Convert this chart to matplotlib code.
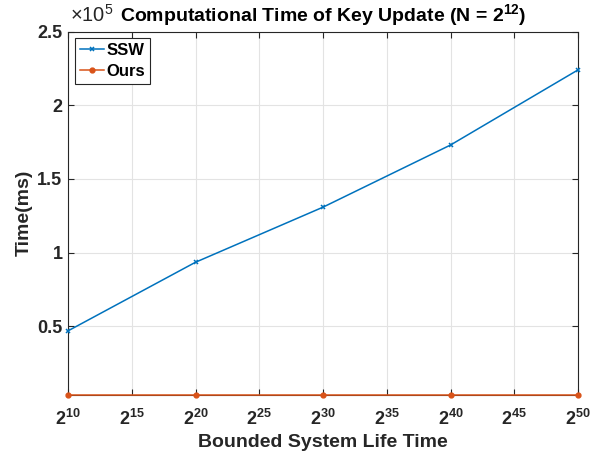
import math
import matplotlib
matplotlib.use("Agg")
import matplotlib.pyplot as plt
from matplotlib.ticker import FuncFormatter, FixedLocator, NullLocator

plt.rcParams['font.family'] = ['Liberation Sans', 'DejaVu Sans']
plt.rcParams['mathtext.fontset'] = 'custom'
plt.rcParams['mathtext.rm'] = 'Liberation Sans'
plt.rcParams['mathtext.it'] = 'Liberation Sans'
plt.rcParams['mathtext.bf'] = 'Liberation Sans:bold'
plt.rcParams['mathtext.default'] = 'rm'

# Data (x exponents of 2, time in ms)
exponents = [10, 20, 30, 40, 50]
ssw_time = [46800, 93400, 130800, 173000, 224000]
ours_time = [3400, 3400, 3400, 3400, 3400]
series_names = ["SSW", "Ours"]
x_tick_exponents = [10, 15, 20, 25, 30, 35, 40, 45, 50]
y_ticks = [0.5e5, 1.0e5, 1.5e5, 2.0e5, 2.5e5]

blue = '#0072BD'
orange = '#D95319'
dark = '#262626'

fig = plt.figure(figsize=(6.04, 4.58), dpi=100)
ax = fig.add_axes([0.1126, 0.138, 0.8444, 0.793])

xs = [2.0 ** e for e in exponents]
ax.plot(xs, ssw_time, color=blue, lw=1.1, marker='x', ms=3, mew=1.1, label=series_names[0],
        clip_on=False, zorder=3)
ax.plot(xs, ours_time, color=orange, lw=1.1, marker='.', ms=7, label=series_names[1],
        clip_on=False, zorder=3)

ax.set_xscale('log', base=2)
ax.set_xlim(2.0 ** 10, 2.0 ** 50)
ax.xaxis.set_major_locator(FixedLocator([2.0 ** e for e in x_tick_exponents]))
ax.xaxis.set_minor_locator(NullLocator())
ax.xaxis.set_major_formatter(FuncFormatter(lambda v, p: r'$\mathbf{2^{%d}}$' % round(math.log2(v))))

ax.set_ylim(ours_time[0], 2.5e5)
ax.yaxis.set_major_locator(FixedLocator(y_ticks))
ax.yaxis.set_major_formatter(FuncFormatter(lambda v, p: '%g' % (v / 1e5)))

ax.tick_params(direction='in', length=4, width=0.8, colors=dark, top=True, right=True,
               labelsize=13)
ax.tick_params(axis='y', pad=4)
ax.tick_params(axis='x', pad=10)
for lab in ax.get_yticklabels():
    lab.set_fontweight('bold')
ax.grid(True, color='#E3E3E3', lw=0.8)
for s in ax.spines.values():
    s.set_color(dark)
    s.set_linewidth(0.8)

ax.set_xlabel('Bounded System Life Time', fontsize=14, fontweight='bold', color=dark, labelpad=4)
ax.set_ylabel('Time(ms)', fontsize=14, fontweight='bold', color=dark, labelpad=3)
ax.set_title(r'Computational Time of Key Update (N = $\mathbf{2^{12}}$)', fontsize=14,
             fontweight='bold', color='#000000', pad=7.5)
ax.text(0.003, 1.028, r'$\times10^{5}$', transform=ax.transAxes, fontsize=14.5,
        ha='left', va='baseline', color=dark)

leg = ax.legend(loc='upper left', fancybox=False, edgecolor=dark, framealpha=1,
                prop={'size': 12, 'weight': 'bold'}, handlelength=1.45, handletextpad=0.15,
                borderpad=0.3, labelspacing=0.35, borderaxespad=0.4)
leg.get_frame().set_linewidth(0.8)

fig.savefig('out.png', dpi=100)
